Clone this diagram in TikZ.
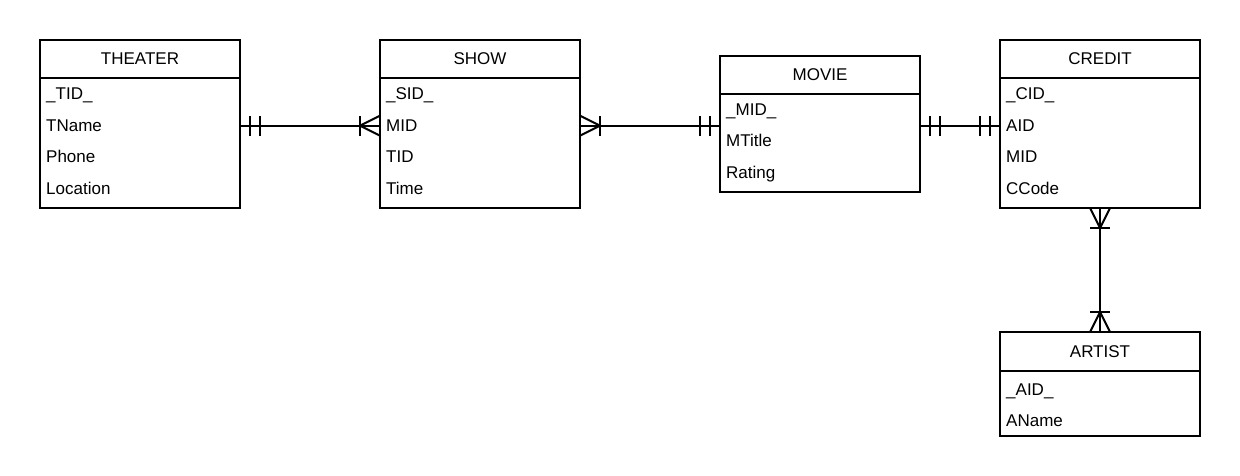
\documentclass[tikz,border=0pt]{standalone}
\usepackage{fontspec}
\setmainfont{Liberation Sans}
\usetikzlibrary{decorations.markings}

\tikzset{
	erfont/.style={font=\fontsize{17}{20}\selectfont},
	entityhead/.style={draw, line width=2pt, erfont, minimum width=200pt, minimum height=38pt, inner sep=0pt, outer sep=0pt, anchor=north},
	entitybody/.style={draw, line width=2pt, minimum width=200pt, inner sep=0pt, outer sep=0pt, anchor=north},
	attr/.style={erfont, inner sep=0pt, anchor=base west},
	relation/.style={line width=2pt},
	start one/.style={postaction={decorate, decoration={markings,
		mark=at position 10pt with {\draw (0,-10pt) -- (0,10pt);},
		mark=at position 20pt with {\draw (0,-10pt) -- (0,10pt);}}}},
	end one/.style={postaction={decorate, decoration={markings,
		mark=at position -10pt with {\draw (0,-10pt) -- (0,10pt);},
		mark=at position -20pt with {\draw (0,-10pt) -- (0,10pt);}}}},
	start many/.style={postaction={decorate, decoration={markings,
		mark=at position 20pt with {\draw (0,-10pt) -- (0,10pt); \draw (-20pt,-10pt) -- (0,0) -- (-20pt,10pt);}}}},
	end many/.style={postaction={decorate, decoration={markings,
		mark=at position -20pt with {\draw (0,-10pt) -- (0,10pt); \draw (20pt,-10pt) -- (0,0) -- (20pt,10pt);}}}}
}

\begin{document}
\begin{tikzpicture}[x=1pt, y=-1pt]
	\useasboundingbox (0,0) rectangle (1240,476);

	% THEATER
	\node[entityhead] (theater) at (140,40) {THEATER};
	\node[entitybody, minimum height=130pt] (theaterbody) at (theater.south) {};
	\node[attr] (theatertid) at (46,100) {\_TID\_};
	\node[attr] (theatername) at (46,131.5) {TName};
	\node[attr] (theaterphone) at (46,163) {Phone};
	\node[attr] (theaterloc) at (46,194.5) {Location};

	% SHOW
	\node[entityhead] (show) at (480,40) {SHOW};
	\node[entitybody, minimum height=130pt] (showbody) at (show.south) {};
	\node[attr] (showsid) at (386,100) {\_SID\_};
	\node[attr] (showmid) at (386,131.5) {MID};
	\node[attr] (showtid) at (386,163) {TID};
	\node[attr] (showtime) at (386,194.5) {Time};

	% MOVIE
	\node[entityhead] (movie) at (820,56) {MOVIE};
	\node[entitybody, minimum height=98pt] (moviebody) at (movie.south) {};
	\node[attr] (moviemid) at (726,115.5) {\_MID\_};
	\node[attr] (movietitle) at (726,147) {MTitle};
	\node[attr] (movierating) at (726,178.5) {Rating};

	% CREDIT
	\node[entityhead] (credit) at (1100,40) {CREDIT};
	\node[entitybody, minimum height=130pt] (creditbody) at (credit.south) {};
	\node[attr] (creditcid) at (1006,100) {\_CID\_};
	\node[attr] (creditaid) at (1006,131.5) {AID};
	\node[attr] (creditmid) at (1006,163) {MID};
	\node[attr] (creditcode) at (1006,194.5) {CCode};

	% ARTIST
	\node[entityhead, minimum height=39pt] (artist) at (1100,332) {ARTIST};
	\node[entitybody, minimum height=65pt] (artistbody) at (artist.south) {};
	\node[attr] (artistaid) at (1006,395.5) {\_AID\_};
	\node[attr] (artistname) at (1006,426.5) {AName};

	% relations
	\draw[relation, start one, end many] (theaterbody.east |- showmid) -- (showbody.west |- showmid);
	\draw[relation, start many, end one] (showbody.east |- showmid) -- (moviebody.west |- showmid);
	\draw[relation, start one, end one] (moviebody.east |- creditaid) -- (creditbody.west |- creditaid);
	\draw[relation, start many, end many] (creditbody.south) -- (artist.north);
\end{tikzpicture}
\end{document}
